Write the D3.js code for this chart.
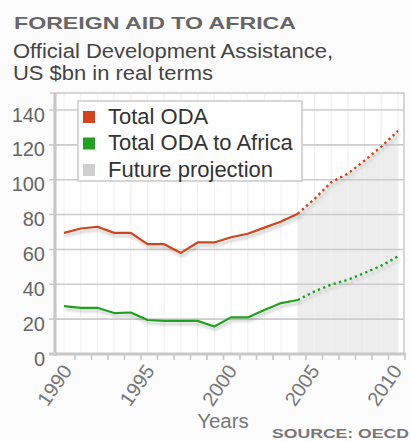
<!DOCTYPE html>
<html><head><meta charset="utf-8">
<script src="https://cdn.jsdelivr.net/npm/d3@7/dist/d3.min.js"></script>
<style>
html,body{margin:0;padding:0;background:#fcfcfc;}
svg{display:block;}
text{font-family:"Liberation Sans",Arial,Helvetica,sans-serif;}
</style></head>
<body>
<svg id="chart" width="411" height="441"></svg>
<script>
// ---- data ----
const years = [1990,1991,1992,1993,1994,1995,1996,1997,1998,1999,2000,2001,2002,2003,2004,2005,2006,2007,2008,2009,2010];
const totalODA = [69.5,72,73,69.5,69.5,63,63,58,64,64,67,69,72.5,76,80.5,89,98.5,103.5,111,119,128];
const africaODA = [27.5,26.5,26.5,23.5,23.8,19.5,19,19,19,15.8,21,21,25.2,29.2,31,35.9,39.8,42.6,46.5,50.7,56];
const projectionStart = 2004;
const yTicks = [0,20,40,60,80,100,120,140];
const xTickLabels = [1990,1995,2000,2005,2010];
const seriesNames = ["Total ODA","Total ODA to Africa","Future projection"];
const seriesColors = ["#d2441c","#22a022","#cfcfcf"];

const svg = d3.select("#chart");
const L = 55, R = 404, T = 93, B = 354;

const x = d3.scaleLinear().domain([1990,2010]).range([64,398]);
const xt = d3.scaleLinear().domain([1990,2010]).range([75,405]);
const y = d3.scaleLinear().domain([0,140]).range([B,110]);

const defs = svg.append("defs");
const f = defs.append("filter").attr("id","shadow").attr("x","-10%").attr("y","-50%").attr("width","130%").attr("height","200%");
f.append("feDropShadow").attr("dx",1.5).attr("dy",3).attr("stdDeviation",1.6).attr("flood-color","#000").attr("flood-opacity",0.22);

// plot background
svg.append("rect").attr("x",L).attr("y",T).attr("width",R-L).attr("height",B-T).attr("fill","#fff");

const pts = (arr) => years.map((yr,i)=>({yr, v:arr[i]}));
const tot = pts(totalODA), afr = pts(africaODA);
const actual = d => d.yr <= projectionStart;
const proj = d => d.yr >= projectionStart;

// shaded projection area
svg.append("path")
  .datum(tot.filter(proj))
  .attr("fill","#ededed")
  .attr("d", d3.area().x(d=>x(d.yr)).y0(B).y1(d=>y(d.v)));

// vertical faint gridlines
svg.append("g").selectAll("line").data(years).join("line")
  .attr("x1",d=>x(d)).attr("x2",d=>x(d)).attr("y1",T).attr("y2",B)
  .attr("stroke","#f2f2f2").attr("stroke-width",1.2);

// horizontal gridlines
svg.append("g").selectAll("line").data(yTicks.filter(d=>d>0)).join("line")
  .attr("x1",L-6).attr("x2",R).attr("y1",d=>y(d)).attr("y2",d=>y(d))
  .attr("stroke","#cccccc").attr("stroke-width",1.6);

// frame top & right
svg.append("path").attr("d",`M${L-5},${T}H${R}V${B}`).attr("fill","none").attr("stroke","#d6d6d6").attr("stroke-width",2);

// lines
const line = d3.line().x(d=>x(d.yr)).y(d=>y(d.v));
[[tot,seriesColors[0]],[afr,seriesColors[1]]].forEach(([data,c])=>{
  svg.append("path").datum(data.filter(actual)).attr("d",line)
    .attr("fill","none").attr("stroke",c).attr("stroke-width",2.2)
    .attr("stroke-linejoin","round").attr("filter","url(#shadow)");
  svg.append("path").datum(data.filter(proj)).attr("d",line)
    .attr("fill","none").attr("stroke",c).attr("stroke-width",2.4)
    .attr("stroke-dasharray","2.4,3.2").attr("filter","url(#shadow)");
});

// axes
svg.append("line").attr("x1",L).attr("x2",L).attr("y1",T).attr("y2",B+2)
  .attr("stroke","#c8c8c8").attr("stroke-width",3.2);
svg.append("line").attr("x1",L-6).attr("x2",R+2).attr("y1",B).attr("y2",B)
  .attr("stroke","#c8c8c8").attr("stroke-width",3.2);

// y tick labels
svg.append("g").selectAll("text").data(yTicks).join("text")
  .attr("x",45).attr("y",d=>y(d)+11.5).attr("text-anchor","end")
  .attr("font-size",20).attr("fill","#666").text(d=>d);

// x minor ticks
svg.append("g").selectAll("line").data(years).join("line")
  .attr("x1",d=>xt(d)).attr("x2",d=>xt(d)).attr("y1",B+1).attr("y2",B+6)
  .attr("stroke","#c8c8c8").attr("stroke-width",1.6);

// x tick labels
svg.append("g").selectAll("text").data(xTickLabels).join("text")
  .attr("transform",d=>`translate(${xt(d)-2},371) rotate(-55)`)
  .attr("text-anchor","end").attr("font-size",20).attr("fill","#777").text(d=>d);

// legend
const lg = svg.append("g");
lg.append("rect").attr("x",78).attr("y",101).attr("width",224).attr("height",80)
  .attr("fill","#fff").attr("stroke","#cccccc").attr("stroke-width",1.6);
seriesNames.forEach((n,i)=>{
  lg.append("rect").attr("x",83).attr("y",111+i*26.5).attr("width",12).attr("height",12).attr("fill",seriesColors[i]);
  lg.append("text").attr("x",108).attr("y",123.5+i*26.5).attr("font-size",22).attr("fill","#333").text(n);
});

// titles
svg.append("text").attr("x",14).attr("y",29).attr("font-family","DejaVu Sans, Verdana, sans-serif")
  .attr("font-weight","bold").attr("font-size",16.5).attr("fill","#666")
  .attr("textLength",282).attr("lengthAdjust","spacingAndGlyphs").text("FOREIGN AID TO AFRICA");
svg.append("text").attr("x",13).attr("y",57.5).attr("font-size",20.5).attr("fill","#444")
  .attr("textLength",320).attr("lengthAdjust","spacingAndGlyphs").text("Official Development Assistance,");
svg.append("text").attr("x",13).attr("y",79.5).attr("font-size",20.5).attr("fill","#444")
  .attr("textLength",200).attr("lengthAdjust","spacingAndGlyphs").text("US $bn in real terms");

svg.append("text").attr("x",223).attr("y",428).attr("text-anchor","middle").attr("font-size",20.5).attr("fill","#777").text("Years");
svg.append("text").attr("x",409).attr("y",437.5).attr("text-anchor","end").attr("font-family","DejaVu Sans, Verdana, sans-serif")
  .attr("font-weight","bold").attr("font-size",13.5).attr("fill","#777")
  .attr("textLength",137).attr("lengthAdjust","spacingAndGlyphs").text("SOURCE: OECD");
</script>
</body></html>
